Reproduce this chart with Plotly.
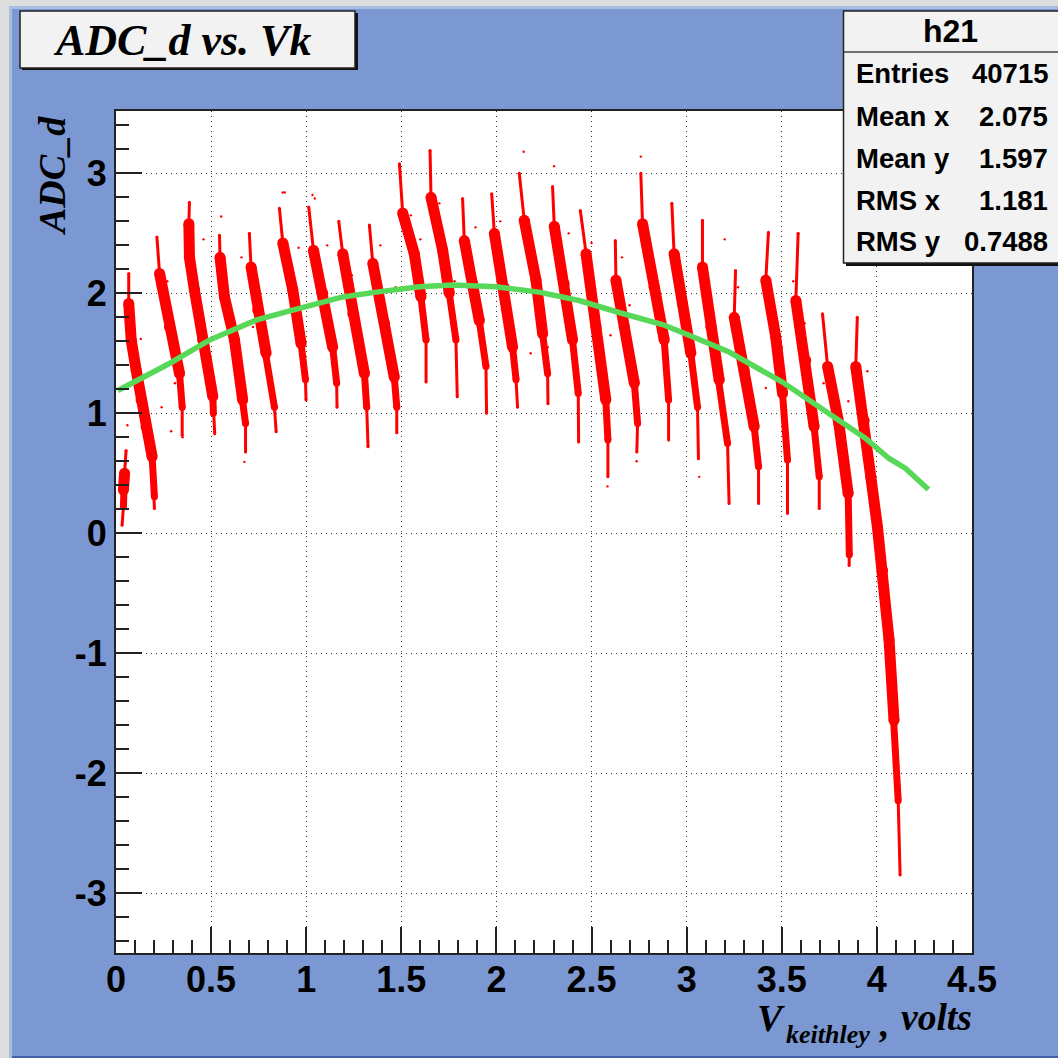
import plotly.graph_objects as go

# Sawtooth streaks: one polyline per streak (V, ADC_d), top to bottom
STREAK_X = [
 [.053,.045,.039,.039,.032],
 [.067,.067,.080,.106,.132,.158,.190,.202,.202],
 [.215,.229,.281,.334,.348,.348],
 [.386,.383,.386,.412,.456,.509,.512,.519],
 [.544,.547,.570,.623,.666,.681,.681],
 [.701,.710,.745,.789,.833,.842],
 [.859,.877,.929,.973,.996,.999],
 [1.013,1.038,1.087,1.139,1.16,1.162],
 [1.171,1.192,1.245,1.306,1.318,1.325],
 [1.332,1.35,1.411,1.463,1.476,1.476],
 [1.49,1.507,1.568,1.603,1.63,1.63],
 [1.651,1.656,1.717,1.752,1.787,1.794],
 [1.822,1.831,1.875,1.91,1.945,1.948],
 [1.975,1.989,2.041,2.085,2.103,2.111],
 [2.12,2.146,2.208,2.243,2.269,2.271],
 [2.295,2.304,2.356,2.4,2.43,2.432],
 [2.441,2.471,2.523,2.575,2.586,2.586],
 [2.625,2.628,2.672,2.725,2.742,2.738],
 [2.759,2.768,2.829,2.882,2.905,2.905],
 [2.922,2.934,2.978,3.022,3.057,3.062],
 [3.083,3.083,3.127,3.171,3.215,3.223],
 [3.257,3.25,3.302,3.355,3.378,3.378],
 [3.43,3.416,3.468,3.504,3.53,3.53],
 [3.586,3.574,3.626,3.67,3.697,3.697],
 [3.714,3.741,3.8,3.849,3.855,3.854],
 [3.897,3.889,3.933,3.968,4.003,4.03,4.064,4.09,4.112,4.122],
]
STREAK_Y = [
 [.69,.50,.36,.22,.067],
 [2.166,1.915,1.61,1.36,1.11,.887,.637,.303,.206],
 [2.47,2.166,1.72,1.33,1.05,.817],
 [2.76,2.58,2.30,2.03,1.61,1.14,1.0,.83],
 [2.485,2.30,1.97,1.61,1.11,.915,.678],
 [2.50,2.22,1.86,1.50,1.05,.845],
 [2.71,2.42,2.03,1.58,1.28,1.11],
 [2.72,2.36,2.0,1.55,1.25,1.05],
 [2.60,2.33,1.83,1.33,1.05,.72],
 [2.57,2.25,1.75,1.30,1.05,.837],
 [3.08,2.67,2.33,1.97,1.61,1.26],
 [3.19,2.80,2.36,2.0,1.61,1.137],
 [2.79,2.44,2.08,1.77,1.39,1.0],
 [2.83,2.50,2.05,1.55,1.28,1.05],
 [3.0,2.61,2.11,1.66,1.33,1.08],
 [2.89,2.56,2.08,1.61,1.165,.76],
 [2.69,2.33,1.72,1.11,.776,.47],
 [2.44,2.11,1.72,1.25,.915,.678],
 [3.0,2.58,2.05,1.61,1.11,.776],
 [2.75,2.33,1.915,1.50,1.05,.62],
 [2.61,2.22,1.72,1.276,.748,.247],
 [2.19,1.80,1.36,.887,.553,.247],
 [2.51,2.11,1.64,1.165,.61,.164],
 [2.5,1.94,1.44,.887,.47,.206],
 [1.83,1.39,.915,.33,-.18,-.27],
 [1.80,1.39,.94,.47,.05,-.31,-.89,-1.56,-2.23,-2.85],
]
# Stray dots read individually
STRAY_X = [.876,.887,1.033,1.045,.553,.675,2.143,2.303,2.759,2.584,2.737,3.066,3.416,.06,.29,.24,
           .35,.43,.60,1.47,1.60,1.84,2.14,2.27,2.60,2.70,3.05,3.27,3.36,3.50,3.62,3.79,
           .13,.17,.27,.31,.46,.50,.66,.72,.96,1.11,1.24,1.39,1.44,1.55,1.70,1.78,1.89,2.02,2.18,2.38,2.50,2.66,2.80,2.95,3.12,3.20,3.45,3.56,3.72,3.85,3.95]
STRAY_Y = [2.84,2.84,2.82,2.79,2.64,.595,3.18,3.06,3.14,.39,.60,.47,1.21,.90,.85,1.05,
           .80,1.55,1.65,2.05,2.45,2.30,2.60,1.55,1.65,1.90,1.25,2.05,.95,1.55,1.75,1.05,
           1.62,.80,2.10,1.25,2.45,1.10,2.30,1.72,2.38,2.40,2.15,2.40,1.45,2.65,2.75,2.10,2.55,2.60,1.50,2.50,2.42,2.30,2.45,2.20,1.95,2.45,1.95,2.10,1.25,1.10,1.35]

FIT_X = [.01,.141,.281,.491,.736,.929,1.192,1.367,1.595,1.77,1.997,2.224,2.434,2.644,2.873,
         3.013,3.223,3.503,3.766,3.941,4.064,4.151,4.271]
FIT_Y = [1.19,1.30,1.415,1.61,1.776,1.86,1.97,2.01,2.054,2.07,2.054,2.01,1.94,1.84,1.74,
         1.65,1.51,1.26,.984,.79,.623,.54,.364]

X_TICKS = [0,.5,1,1.5,2,2.5,3,3.5,4,4.5]
X_LABELS = ["0","0.5","1","1.5","2","2.5","3","3.5","4","4.5"]
Y_TICKS = [-3,-2,-1,0,1,2,3]
Y_LABELS = ["-3","-2","-1","0","1","2","3"]
STATS_NAMES = ["Entries","Mean x","Mean y","RMS x","RMS y"]
STATS_VALUES = ["40715","2.075","1.597","1.181","0.7488"]

L, R, T, B = 116, 972, 111, 953
px = lambda v: (v - L) / (R - L)
py = lambda v: (B - v) / (B - T)
BLUE = "#7b98d2"
RED = "#ff0000"
SERIF = "Liberation Serif"
SANS = "Liberation Sans"

thin_x, thin_y, mid_x, mid_y, wide_x, wide_y = [], [], [], [], [], []
for xs, ys in zip(STREAK_X, STREAK_Y):
    thin_x += xs + [None]; thin_y += ys + [None]
    mid_x += xs[1:-1] + [None]; mid_y += ys[1:-1] + [None]
    wide_x += xs[1:-2] + [None]; wide_y += ys[1:-2] + [None]

fig = go.Figure()
for xs, ys, w in [(thin_x, thin_y, 3), (mid_x, mid_y, 7), (wide_x, wide_y, 11)]:
    fig.add_trace(go.Scatter(x=xs, y=ys, mode="lines+markers", line=dict(color=RED, width=w),
                             marker=dict(color=RED, size=w)))
fig.add_trace(go.Scatter(x=STRAY_X, y=STRAY_Y, mode="markers", marker=dict(color=RED, size=2.4)))
fig.add_trace(go.Scatter(x=FIT_X, y=FIT_Y, mode="lines", line=dict(color="#58d858", width=5.5)))

def rect(x0, y0, x1, y1, fill, line=None, w=0, layer="above"):
    return dict(type="rect", xref="paper", yref="paper", x0=px(x0), x1=px(x1), y0=py(y0), y1=py(y1),
                fillcolor=fill, line=dict(color=line or fill, width=w), layer=layer)

shapes = [
    rect(9, 6, 12, 1058, "#a9bce3", layer="below"),
    rect(9, 6, 1058, 9, "#a9bce3", layer="below"),
    rect(0, 0, 9, 1058, "#dedede", layer="below"),
    rect(0, 0, 1058, 6, "#dedede", layer="below"),
    rect(12, 1056, 1058, 1058, "#3f62ab", layer="below"),
    rect(22, 13, 358, 70, "#111111"),
    rect(20, 11, 355, 68, "#f2f2f2", "#222222", 1.5),
    rect(846, 14, 1060, 266, "#111111"),
    rect(843.5, 11, 1060, 263, "#f2f2f2", "#222222", 1.5),
    dict(type="line", xref="paper", yref="paper", x0=px(843.5), x1=px(1058), y0=py(52), y1=py(52),
         line=dict(color="#444444", width=1.5)),
]

def note(text, x, y, size, family=SANS, ax="center", ay="middle", angle=0):
    return dict(text=text, xref="paper", yref="paper", x=px(x), y=py(y), showarrow=False, xanchor=ax, yanchor=ay,
                textangle=angle, font=dict(family=family, size=size, color="#000000"), borderpad=0, borderwidth=0)

anns = [
    note("<b><i>ADC_d vs. Vk</i></b>", 182, 40, 44, SERIF),
    note("<b><i>ADC_d</i></b>", 52, 176, 38, SERIF, angle=-90),
    note("<b><i>V</i></b>", 771, 1018, 38, SERIF),
    note("<b><i>keithley</i></b>", 828, 1034, 26, SERIF),
    note("<b><i>,</i></b>", 884, 1024, 38, SERIF),
    note("<b><i>volts</i></b>", 936, 1017, 37.5, SERIF),
    note("<b>h21</b>", 950, 31, 32),
]
for name, val, yy in zip(STATS_NAMES, STATS_VALUES, [73, 116, 159, 200, 242]):
    anns.append(note(f"<b>{name}</b>", 856, yy, 27.5, ax="left"))
    anns.append(note(f"<b>{val}</b>", 1048, yy, 27.5, ax="right"))

axis = dict(showline=True, linecolor="#222222", linewidth=2, mirror=True, ticks="inside", ticklen=26,
            tickwidth=1.5, tickcolor="#222222", showgrid=True, gridcolor="#333333", gridwidth=1.2,
            griddash="1.2px,3.8px", zeroline=False,
            tickfont=dict(family=SANS, size=36, color="#000000", weight="bold"))

fig.update_layout(
    width=1058, height=1058, autosize=False, showlegend=False,
    paper_bgcolor=BLUE, plot_bgcolor="#ffffff",
    margin=dict(l=L, r=1058 - R, t=T, b=1058 - B, pad=0),
    xaxis=dict(axis, range=[0, 4.5], tickmode="array", tickvals=X_TICKS, ticktext=X_LABELS, ticklabelstandoff=-6,
               minor=dict(ticks="inside", ticklen=13, dtick=0.1, tick0=0, tickwidth=1.5, tickcolor="#222222", showgrid=False)),
    yaxis=dict(axis, range=[-3.5, 3.52], tickmode="array", tickvals=Y_TICKS, ticktext=Y_LABELS,
               minor=dict(ticks="inside", ticklen=13, dtick=0.2, tick0=0, tickwidth=1.5, tickcolor="#222222", showgrid=False)),
    shapes=shapes, annotations=anns,
)

fig.write_html("out.html", config=dict(displayModeBar=False),
               post_script="document.body.style.margin='0';document.body.style.overflow='hidden';")
